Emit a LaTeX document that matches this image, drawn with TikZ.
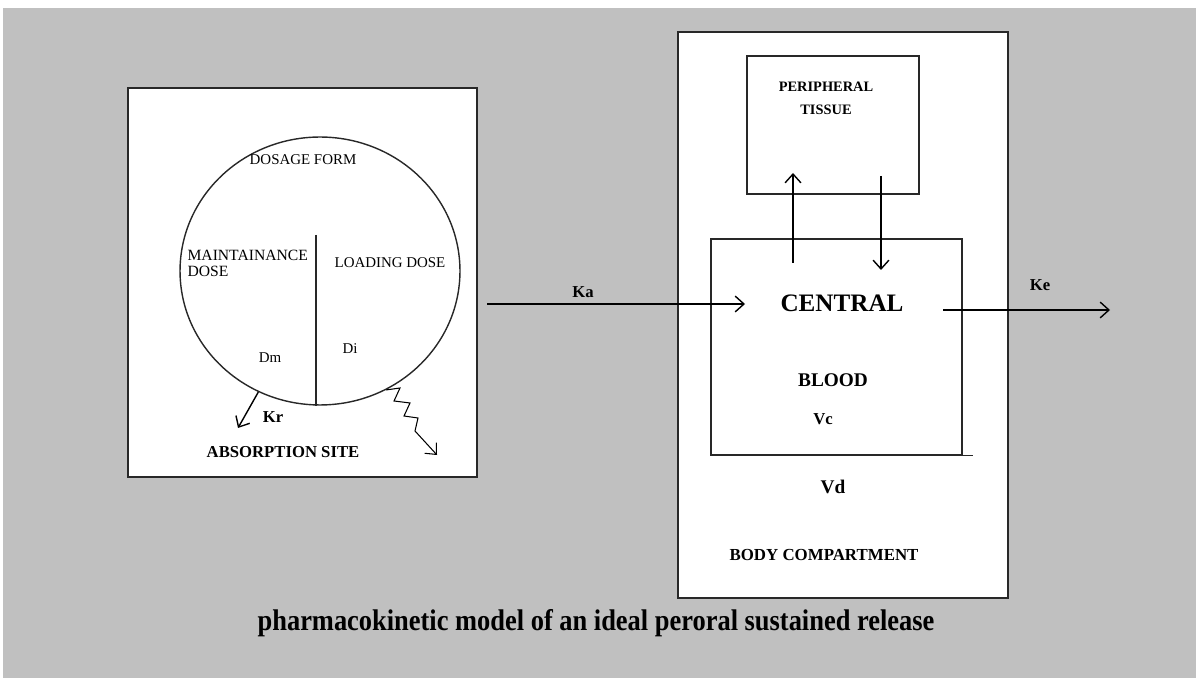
\documentclass[tikz,border=0pt]{standalone}
\usepackage{fontspec}
\setmainfont{Liberation Serif}
\usetikzlibrary{arrows.meta,shapes.geometric}
\definecolor{bggray}{RGB}{192,192,192}
\definecolor{edge}{RGB}{40,40,40}

\begin{document}
\begin{tikzpicture}[x=0.02cm, y=-0.02cm, line width=0.8pt,
    >={Straight Barb[length=5pt,width=9pt]},
    box/.style={draw=edge, fill=white, inner sep=0pt},
    plain/.style={font=\fontsize{8.5}{10}\selectfont, align=left},
    heavy/.style={font=\bfseries\fontsize{9.5}{11}\selectfont, align=center}]
                % Background
                \fill[white] (0,0) rectangle (1196,678);
                \fill[bggray] (3,8) rectangle (1196,678);
                \useasboundingbox (0,0) rectangle (1196,678);

                % Draw the compartments
                \node[box, minimum width=6.98cm, minimum height=7.78cm] (site) at (302.5,282.5) {};
                \node[box, ellipse, minimum width=5.6cm, minimum height=5.36cm] (dose) at (320,271) {};
                \node[box, minimum width=6.6cm, minimum height=11.32cm] (body) at (843,315) {};
                \node[box, minimum width=3.44cm, minimum height=2.76cm] (peri) at (833,125) {};
                \node[box, minimum width=5.02cm, minimum height=4.32cm] (cen) at (836.5,347) {};
                \draw[edge] (cen.south east) -- ++(10,0);

                % Divide the dosage form
                \coordinate (divtop) at (316,235);
                \draw[edge] (divtop) -- (divtop |- dose.south);

                % Release from the dosage form
                \coordinate (krend) at (238,428);
                \draw[->] (dose.243) -- (krend);
                \coordinate (zzend) at (437,455);
                \draw[->, line width=0.6pt] (dose.299) -- (400,388) -- (394,401) -- (410,403)
                    -- (404,416) -- (418,418) -- (415,431) -- (zzend);

                % Transfer arrows
                \coordinate (kastart) at (487,304);
                \coordinate (kaend) at (745,304);
                \draw[->] (kastart) -- (kaend);
                \coordinate (upstart) at (793,263);
                \coordinate (upend) at (793,173);
                \draw[->] (upstart) -- (upend);
                \coordinate (dnstart) at (881,176);
                \coordinate (dnend) at (881,270);
                \draw[->] (dnstart) -- (dnend);
                \coordinate (kestart) at (943,310);
                \coordinate (keend) at (1110,310);
                \draw[->] (kestart) -- (keend);

                % Add labels
                \node[plain] (form) at (303,160) {DOSAGE FORM};
                \node[plain, anchor=west, font=\fontsize{8.9}{10}\selectfont] (main) at (181,263) {MAINTAINANCE\\[-1pt]DOSE};
                \node[plain] (load) at (390,263) {LOADING DOSE};
                \node[plain] (dm) at (270,358) {Dm};
                \node[plain] (di) at (350,349) {Di};
                \node[heavy] (kr) at (273,417) {Kr};
                \node[heavy] (abs) at (283,452) {ABSORPTION SITE};
                \node[heavy] (ka) at (583,292) {Ka};
                \node[heavy, font=\bfseries\fontsize{8.2}{13}\selectfont] (tis) at (826,98) {PERIPHERAL\\TISSUE};
                \node[heavy, font=\bfseries\fontsize{14.3}{17}\selectfont] (centr) at (842,303) {CENTRAL};
                \node[heavy, font=\bfseries\fontsize{11}{13}\selectfont] (blood) at (833,380) {BLOOD};
                \node[heavy] (vc) at (823,419) {Vc};
                \node[heavy, font=\bfseries\fontsize{11}{13}\selectfont] (vd) at (833,487) {Vd};
                \node[heavy, font=\bfseries\fontsize{9.6}{12}\selectfont] (bodyc) at (824,555) {BODY COMPARTMENT};
                \node[heavy] (ke) at (1040,285) {Ke};
                \node[font=\bfseries\fontsize{17}{20}\selectfont, xscale=0.885] (cap) at (596,623)
                    {pharmacokinetic model of an ideal peroral sustained release};
\end{tikzpicture}
\end{document}
